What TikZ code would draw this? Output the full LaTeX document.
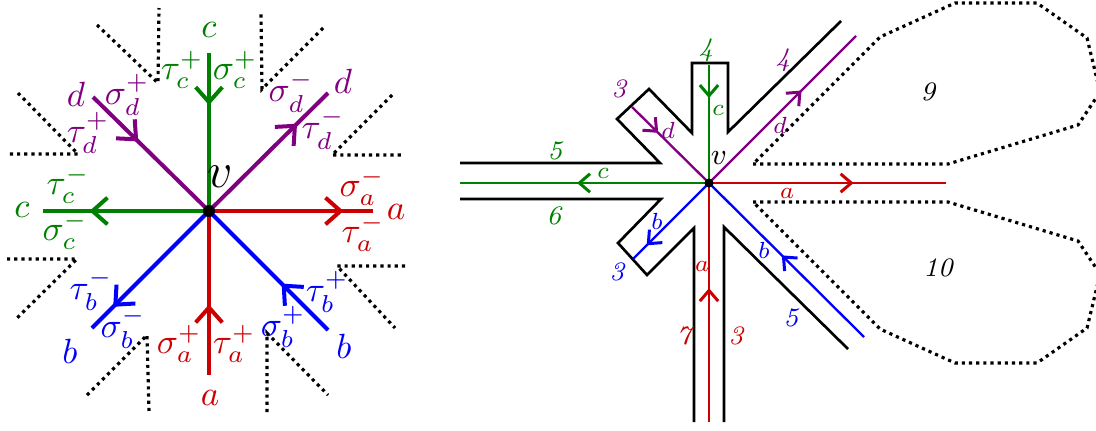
\RequirePackage{fix-cm}
\documentclass[tikz,border=0pt]{standalone}
\usepackage{amsmath, amssymb}
\usepackage{xcolor}
\usepackage{tikz}
\usetikzlibrary{arrows.meta}
\usetikzlibrary{decorations.markings}

\definecolor{edgered}{RGB}{204,0,0}
\definecolor{edgegreen}{RGB}{0,128,0}
\definecolor{edgeviolet}{RGB}{128,0,128}
\definecolor{edgeblue}{RGB}{0,0,255}

\tikzset{
	midarrow/.style={postaction={decorate},decoration={markings,mark=at position #1 with {\arrow{Straight Barb[length=4.5pt,width=8pt]}}}},
	midarrowsmall/.style={postaction={decorate},decoration={markings,mark=at position #1 with {\arrow{Straight Barb[length=3.2pt,width=5.5pt,line width=0.9pt]}}}},
	thickedge/.style={line width=1.2pt},
	thinedge/.style={line width=0.7pt},
	ribbon/.style={line width=0.8pt},
	bound/.style={line width=0.95pt,dash pattern=on 0.95pt off 1.2pt},
	biglab/.style={font=\fontsize{10.5}{12}\selectfont,inner sep=0pt},
	bigv/.style={font=\fontsize{15}{18}\selectfont,inner sep=0pt},
	smalllab/.style={font=\fontsize{7}{8}\selectfont,inner sep=0pt},
	numlab/.style={font=\fontsize{8}{9}\selectfont\itshape,inner sep=0pt},
	midv/.style={font=\fontsize{9}{11}\selectfont,inner sep=0pt},
}

\begin{document}
\begin{tikzpicture}[x=0.3pt,y=-0.3pt]
		\useasboundingbox (0,0) rectangle (1096,430);
		% left: the vertex v and its half-edges
		\coordinate (v) at (209,211);
		\coordinate (ea) at (373,211);
		\coordinate (ec) at (43,211);
		\coordinate (ecN) at (209,53);
		\coordinate (eaS) at (209,375);
		\coordinate (ed) at (93,97);
		\coordinate (edNE) at (328,93);
		\coordinate (eb) at (92,328);
		\coordinate (ebSE) at (328,330);
		\draw[bound] (97,25) -- (158,83) -- (159,8);
		\draw[bound] (323,28) -- (262,89) -- (261,13);
		\draw[bound] (18,93) -- (78,154) -- (8,154);
		\draw[bound] (392,95) -- (332,155) -- (402,155);
		\draw[bound] (7,259) -- (77,259) -- (15,320);
		\draw[bound] (405,266) -- (337,266) -- (395,328);
		\draw[bound] (87,395) -- (147,335) -- (149,412);
		\draw[bound] (267,412) -- (267,333) -- (328,395);
		\draw[thickedge,edgered,midarrow=0.82] (v) -- (ea);
		\draw[thickedge,edgegreen,midarrow=0.72] (v) -- (ec);
		\draw[thickedge,edgegreen,midarrow=0.33] (ecN) -- (v);
		\draw[thickedge,edgered,midarrow=0.43] (eaS) -- (v);
		\draw[thickedge,edgeviolet,midarrow=0.39] (ed) -- (v);
		\draw[thickedge,edgeviolet,midarrow=0.74] (v) -- (edNE);
		\draw[thickedge,edgeblue,midarrow=0.82] (v) -- (eb);
		\draw[thickedge,edgeblue,midarrow=0.39] (ebSE) -- (v);
		\fill (v) circle (1.8pt);
		\node[bigv] (vlab) at (220,177) {$v$};
		\node[biglab,text=edgegreen] (cN) at (209,30) {$c$};
		\node[biglab,text=edgegreen] (cW) at (22,210) {$c$};
		\node[biglab,text=edgered] (aE) at (396,212) {$a$};
		\node[biglab,text=edgered] (aS) at (210,398) {$a$};
		\node[biglab,text=edgeviolet] (dNW) at (76,94) {$d$};
		\node[biglab,text=edgeviolet] (dNE) at (343,81) {$d$};
		\node[biglab,text=edgeblue] (bSW) at (70,351) {$b$};
		\node[biglab,text=edgeblue] (bSE) at (344,346) {$b$};
		\node[biglab,text=edgegreen] (tcp) at (182,70) {$\tau_c^+$};
		\node[biglab,text=edgegreen] (scp) at (235,70) {$\sigma_c^+$};
		\node[biglab,text=edgeviolet] (sdp) at (127,95) {$\sigma_d^+$};
		\node[biglab,text=edgeviolet] (tdp) at (88,133) {$\tau_d^+$};
		\node[biglab,text=edgeviolet] (sdm) at (291,92) {$\sigma_d^-$};
		\node[biglab,text=edgeviolet] (tdm) at (323,129) {$\tau_d^-$};
		\node[biglab,text=edgegreen] (tcm) at (68,185) {$\tau_c^-$};
		\node[biglab,text=edgegreen] (scm) at (65,231) {$\sigma_c^-$};
		\node[biglab,text=edgered] (sam) at (362,187) {$\sigma_a^-$};
		\node[biglab,text=edgered] (tam) at (363,233) {$\tau_a^-$};
		\node[biglab,text=edgeblue] (tbm) at (91,290) {$\tau_b^-$};
		\node[biglab,text=edgeblue] (sbm) at (123,328) {$\sigma_b^-$};
		\node[biglab,text=edgered] (sap) at (179,344) {$\sigma_a^+$};
		\node[biglab,text=edgered] (tap) at (234,344) {$\tau_a^+$};
		\node[biglab,text=edgeblue] (sbp) at (283,327) {$\sigma_b^+$};
		\node[biglab,text=edgeblue] (tbp) at (327,292) {$\tau_b^+$};
		% right: the same vertex as a ribbon
		\coordinate (w) at (709,183);
		\coordinate (wa) at (946,183);
		\coordinate (waS) at (709,422);
		\coordinate (wc) at (460,183);
		\coordinate (wcN) at (709,65);
		\coordinate (wd) at (632,107);
		\coordinate (wdNE) at (856,36);
		\coordinate (wb) at (633,259);
		\coordinate (wbSE) at (864,337);
		\draw[ribbon] (460,163) -- (660,163) -- (617,119) -- (649,89) -- (692,133) -- (692,63) -- (728,63) -- (728,132) -- (841,21);
		\draw[ribbon] (460,199) -- (661,199) -- (618,243) -- (647,275) -- (694,228) -- (694,422);
		\draw[ribbon] (724,422) -- (724,227) -- (848,349);
		\draw[bound] (753,164) -- (948,164) -- (1078,125) -- (1100,92) -- (1087,38) -- (1037,3) -- (955,3) -- (880,37) -- cycle;
		\draw[bound] (753,202) -- (948,202) -- (1078,241) -- (1100,274) -- (1087,328) -- (1037,363) -- (955,363) -- (880,329) -- cycle;
		\draw[thinedge,edgered,midarrowsmall=0.61] (w) -- (wa);
		\draw[thinedge,edgered,midarrowsmall=0.56] (waS) -- (w);
		\draw[thinedge,edgegreen,midarrowsmall=0.53] (w) -- (wc);
		\draw[thinedge,edgegreen,midarrowsmall=0.28] (wcN) -- (w);
		\draw[thinedge,edgeviolet,midarrowsmall=0.34] (wd) -- (w);
		\draw[thinedge,edgeviolet,midarrowsmall=0.63] (w) -- (wdNE);
		\draw[thinedge,edgeblue,midarrowsmall=0.82] (w) -- (wb);
		\draw[thinedge,edgeblue,midarrowsmall=0.53] (wbSE) -- (w);
		\fill (w) circle (1.35pt);
		\node[midv] (wlab) at (719,158) {$v$};
		\node[numlab,text=edgegreen] (n4c) at (706,50) {4};
		\node[smalllab,text=edgegreen] (lcN) at (718,110) {$c$};
		\node[numlab,text=edgeviolet] (n3d) at (619,89) {3};
		\node[smalllab,text=edgeviolet] (ldNW) at (668,130) {$d$};
		\node[numlab,text=edgegreen] (n5c) at (555,151) {5};
		\node[smalllab,text=edgegreen] (lcW) at (603,173) {$c$};
		\node[numlab,text=edgegreen] (n6c) at (554,216) {6};
		\node[smalllab,text=edgeblue] (lbSW) at (657,221) {$b$};
		\node[numlab,text=edgeblue] (n3b) at (617,272) {3};
		\node[smalllab,text=edgered] (laS) at (702,266) {$a$};
		\node[numlab,text=edgered] (n7a) at (684,336) {7};
		\node[numlab,text=edgered] (n3a) at (736,336) {3};
		\node[smalllab,text=edgeblue] (lbSE) at (764,250) {$b$};
		\node[numlab,text=edgeblue] (n5b) at (791,318) {5};
		\node[numlab,text=edgeviolet] (n4d) at (783,60) {4};
		\node[smalllab,text=edgeviolet] (ldNE) at (780,125) {$d$};
		\node[smalllab,text=edgered] (laE) at (787,193) {$a$};
		\node[numlab] (n9) at (928,92) {9};
		\node[numlab] (n10) at (938,268) {10};
	\end{tikzpicture}
\end{document}
